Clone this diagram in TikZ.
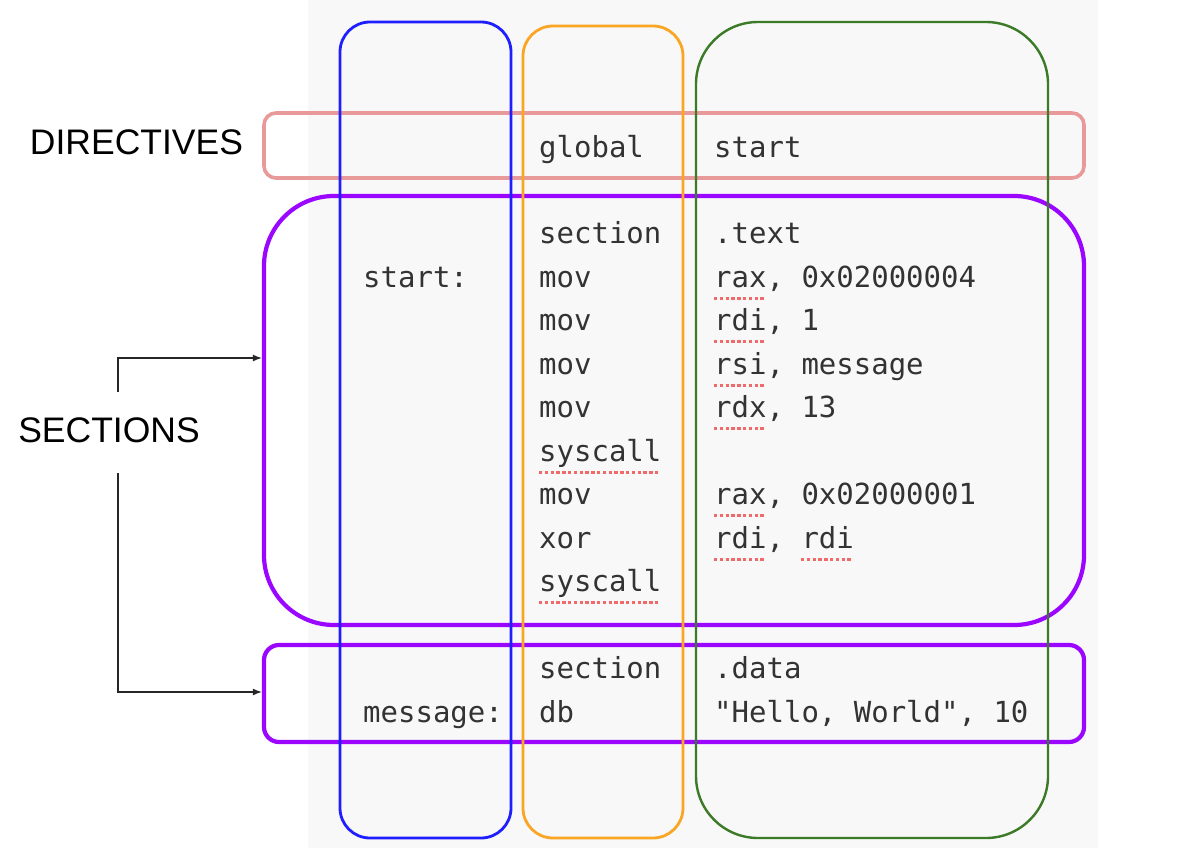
\documentclass[tikz,border=0pt]{standalone}
\usepackage{fontspec}
\setmainfont{Liberation Sans}
\newfontfamily\codefont{DejaVu Sans Mono}
\usetikzlibrary{arrows.meta}
\definecolor{bgc}{HTML}{F8F8F8}
\definecolor{codec}{HTML}{333333}
\definecolor{sqc}{HTML}{F06A6A}
\definecolor{colblue}{HTML}{1E1EFF}
\definecolor{colorange}{HTML}{FAA523}
\definecolor{colgreen}{HTML}{3B7A27}
\definecolor{colpink}{HTML}{E89A9A}
\definecolor{colpurple}{HTML}{9A06FF}
\begin{document}
\begin{tikzpicture}[x=1pt,y=-1pt,
  code/.style={anchor=base west, inner sep=0pt, font=\codefont\fontsize{29}{34}\selectfont, text=codec},
  squig/.style={draw=sqc, line width=3pt, dash pattern=on 3.4pt off 2.4pt},
  box/.style={draw, inner sep=0pt, fill=none},
  lbl/.style={inner sep=0pt, font=\fontsize{35.5}{40}\selectfont, text=black},
  arr/.style={draw=black!85, line width=1.4pt, -{Latex[length=9pt,width=7pt]}}]
\fill[white] (0,0) rectangle (1188,851);
\useasboundingbox (0,0) rectangle (1188,851);
\fill[bgc] (308,0) rectangle (1098,848);
% horizontal groups
\node[box, draw=colpink, line width=3.6pt, rounded corners=12pt, minimum width=820, minimum height=65] (dirbox) at (674,145.5) {};
\node[box, draw=colpurple, line width=4.2pt, rounded corners=70pt, minimum width=820, minimum height=429] (textsec) at (674,410.5) {};
\node[box, draw=colpurple, line width=4.2pt, rounded corners=15pt, minimum width=820, minimum height=97] (datasec) at (674,693.5) {};
% columns
\node[box, draw=colblue, line width=2.8pt, rounded corners=30pt, minimum width=171, minimum height=816] (colA) at (425.5,430) {};
\node[box, draw=colorange, line width=2.8pt, rounded corners=30pt, minimum width=160, minimum height=812] (colB) at (603,432) {};
\node[box, draw=colgreen, line width=2.4pt, rounded corners=62pt, minimum width=352, minimum height=816] (colC) at (872,430) {};
% labels
\node[lbl] (directives) at (136.5,142) {DIRECTIVES};
\node[lbl] (sections) at (109,430) {SECTIONS};
\coordinate (su) at (118,392);
\coordinate (sd) at (118,473);
\draw[arr] (su) |- (textsec.west |- 0,358);
\draw[arr] (sd) |- (datasec.west |- 0,692);
% code
\node[code] (g1) at (539,157) {global};
\node[code] (g2) at (714,157) {start};
\node[code] (t1) at (539,243.5) {section};
\node[code] (t2) at (714,243.5) {.text};
\node[code] (t0) at (363,287) {start:};
\node[code] (m1) at (539,287) {mov};
\node[code] (m1a) at (714,287) {rax, 0x02000004};
\node[code] (m2) at (539,330.5) {mov};
\node[code] (m2a) at (714,330.5) {rdi, 1};
\node[code] (m3) at (539,374) {mov};
\node[code] (m3a) at (714,374) {rsi, message};
\node[code] (m4) at (539,417.5) {mov};
\node[code] (m4a) at (714,417.5) {rdx, 13};
\node[code] (s1) at (539,461) {syscall};
\node[code] (m5) at (539,504.5) {mov};
\node[code] (m5a) at (714,504.5) {rax, 0x02000001};
\node[code] (x1) at (539,548) {xor};
\node[code] (x1a) at (714,548) {rdi, rdi};
\node[code] (s2) at (539,591.5) {syscall};
\node[code] (d1) at (539,678.5) {section};
\node[code] (d1a) at (714,678.5) {.data};
\node[code] (d0) at (363,722) {message:};
\node[code] (d2) at (539,722) {db};
\node[code] (d2a) at (714,722) {"Hello, World", 10};
% squiggles
\draw[squig] (714,298) -- (766,298);
\draw[squig] (714,341.5) -- (766,341.5);
\draw[squig] (714,385) -- (766,385);
\draw[squig] (714,428.5) -- (766,428.5);
\draw[squig] (539,472) -- (660,472);
\draw[squig] (714,515.5) -- (766,515.5);
\draw[squig] (714,559) -- (766,559);
\draw[squig] (801,559) -- (853,559);
\draw[squig] (539,602.5) -- (660,602.5);
\end{tikzpicture}
\end{document}
